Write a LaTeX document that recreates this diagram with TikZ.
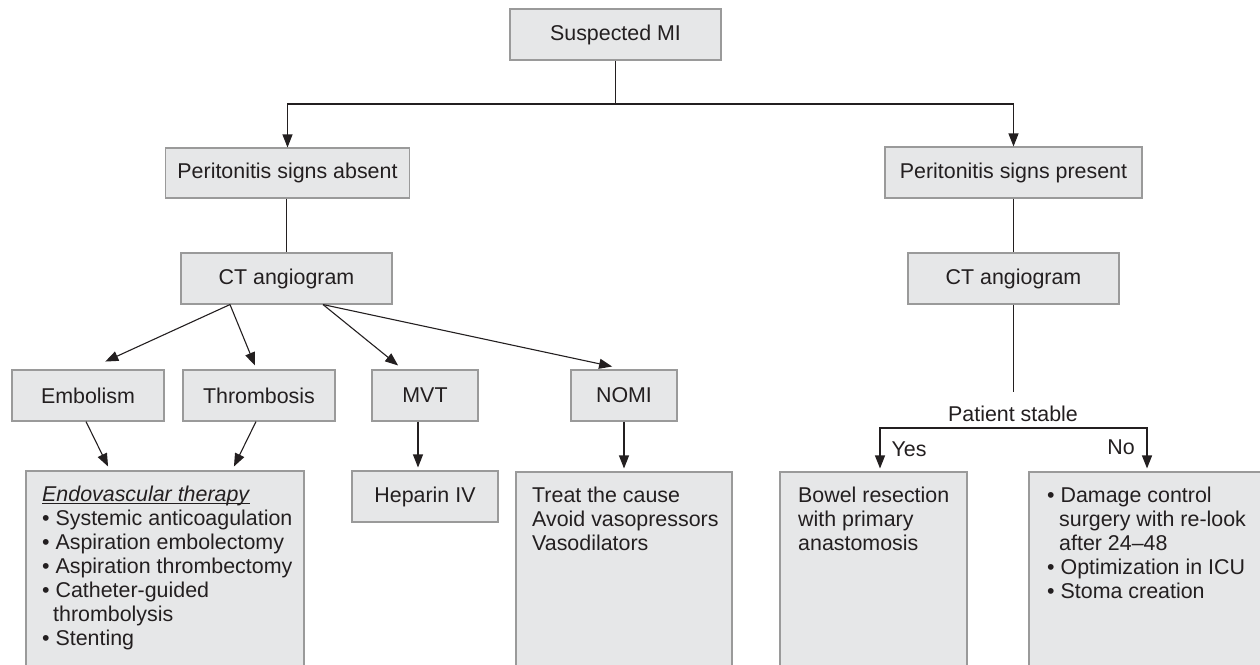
\documentclass[tikz,border=0pt]{standalone}
\usepackage{fontspec}
\setmainfont{Liberation Sans}
\usetikzlibrary{arrows.meta,calc}
\definecolor{boxfill}{HTML}{E6E7E8}
\definecolor{boxline}{HTML}{9A9A9A}
\definecolor{ink}{HTML}{231F20}
\newcommand\myuline[1]{\setbox0\hbox{#1}\rlap{\rule[-2.4pt]{\wd0}{0.9pt}}\box0}
\begin{document}
\begin{tikzpicture}[x=1pt,y=-1pt,
  txt/.style={font=\fontsize{21.4}{24}\selectfont, text=ink},
  box/.style={txt, draw=boxline, fill=boxfill, line width=1.1pt, inner sep=0pt, rectangle},
  bx/.style 2 args={box, minimum width=#1pt, minimum height=#2pt},
  lbl/.style={txt, inner sep=0pt, align=left},
  conn/.style={draw=ink, line width=1.1pt},
  arr/.style={conn, -{Triangle[length=13pt,width=10pt]}},
  darr/.style={conn, {Triangle[length=13pt,width=10pt]}-{Triangle[length=13pt,width=10pt]}},
]
\useasboundingbox (0,0) rectangle (1260,664);
\clip (0,0) rectangle (1260,664);

% level 0-2
\node[bx={211}{51}] (mi)  at (615.5,34.5) {Suspected MI};
\node[bx={244}{50}] (pa)  at (287.5,173) {Peritonitis signs absent};
\node[bx={257}{51}] (pp)  at (1013.5,172.5) {Peritonitis signs present};
\node[bx={211}{51}] (cta) at (286.5,278.5) {CT angiogram};
\node[bx={211}{51}] (ctp) at (1013.5,278.5) {CT angiogram};

% level 3
\node[bx={152}{51}] (emb)  at (88,395.5) {Embolism};
\node[bx={152}{51}] (thr)  at (259,395.5) {Thrombosis};
\node[bx={106}{51}] (mvt)  at (425,395.5) {MVT};
\node[bx={106}{51}] (nomi) at (624,395.5) {NOMI};

% level 4 boxes
\node[bx={278}{220}] (endo)  at (165,581) {};
\node[bx={146}{51}]  (hep)   at (425,496.5) {Heparin IV};
\node[bx={216}{220}] (treat) at (624,582) {};
\node[bx={187}{220}] (bowel) at (873.5,582) {};
\node[bx={251}{220}] (dmg)   at (1154.5,582) {};

% box texts
\node[lbl, anchor=north west] (endotxt) at (42,486)
  {\myuline{\textit{Endovascular therapy}}\\
   • Systemic anticoagulation\\
   • Aspiration embolectomy\\
   • Aspiration thrombectomy\\
   • Catheter-guided\\
   \hspace{11pt}thrombolysis\\
   • Stenting};
\node[lbl, anchor=north west] (treattxt) at (532,487)
  {Treat the cause\\Avoid vasopressors\\Vasodilators};
\node[lbl, anchor=north west] (boweltxt) at (798,487)
  {Bowel resection\\with primary\\anastomosis};
\node[lbl, anchor=north west] (dmgtxt) at (1047,487)
  {• Damage control\\
   \hspace{12pt}surgery with re-look\\
   \hspace{12pt}after 24–48\\
   • Optimization in ICU\\
   • Stoma creation};

% decision labels
\node[lbl] (ps)  at (1013,414) {Patient stable};
\node[lbl] (yes) at (909,449) {Yes};
\node[lbl] (no)  at (1121,447) {No};
\coordinate (yesC) at (880,428);
\coordinate (noC)  at (1147,428);

% connectors
\coordinate (split) at (615.5,104);
\draw[conn] (mi.south) -- (split);
\draw[arr] (split) -| (pa.north);
\draw[arr] (split) -| (pp.north);
\draw[conn] (cta.north |- pa.south) -- (cta.north);
\draw[conn] (pp.south) -- (ctp.north);

\draw[arr, shorten >=19pt]  ([xshift=-56.5pt]cta.south) -- (emb.north);
\draw[arr, shorten >=4.3pt] ([xshift=-56.5pt]cta.south) -- ([xshift=-2.4pt]thr.north);
\draw[arr, shorten >=6.3pt] ([xshift=36.5pt]cta.south) -- ([xshift=-22pt]mvt.north);
\draw[arr, shorten >=14pt]  ([xshift=36.5pt]cta.south) -- ([xshift=1.8pt]nomi.north);

\draw[arr, shorten >=4.4pt] ([xshift=-2pt]emb.south) -- ([xshift=-55pt]endo.north);
\draw[arr, shorten >=4.4pt] ([xshift=-3pt]thr.south) -- ([xshift=67pt]endo.north);
\draw[arr, shorten >=3pt] ([xshift=-7pt]mvt.south) -- ([xshift=-7pt]hep.north);
\draw[arr, shorten >=3pt] (nomi.south) -- (nomi.south |- treat.north);

\draw[conn, shorten >=14pt] (ctp.south) -- (ctp.south |- ps.north);
\draw[darr, shorten <=3pt, shorten >=3pt] (yesC |- bowel.north) -- (yesC) -- (noC) -- (noC |- dmg.north);
\end{tikzpicture}
\end{document}
